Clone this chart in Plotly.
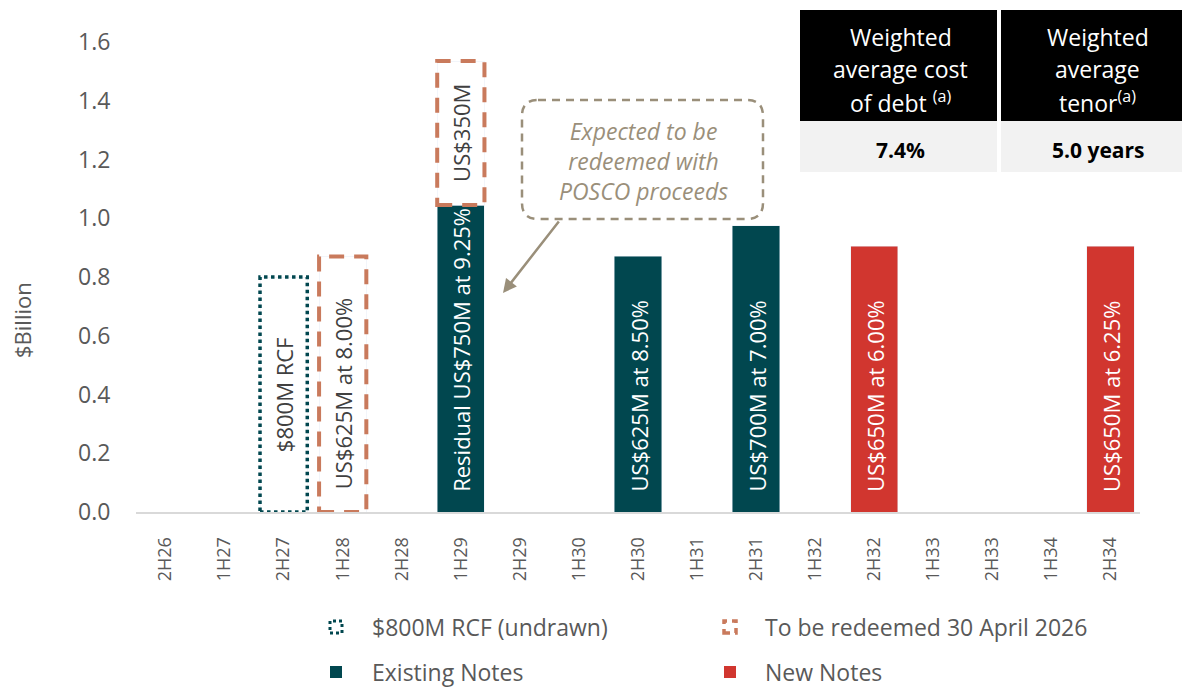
import plotly.graph_objects as go

# ---------------- data ----------------
categories = ['2H26', '1H27', '2H27', '1H28', '2H28', '1H29', '2H29', '1H30', '2H30',
              '1H31', '2H31', '1H32', '2H32', '1H33', '2H33', '1H34', '2H34']

existing_notes = [None, None, None, None, None, 1.045, None, None, 0.87,
                  None, 0.975, None, None, None, None, None, None]
new_notes = [None, None, None, None, None, None, None, None, None,
             None, None, None, 0.905, None, None, None, 0.905]
rcf_undrawn = [None, None, 0.80, None, None, None, None, None, None,
               None, None, None, None, None, None, None, None]
to_be_redeemed = [None, None, None, 0.87, None, 0.49, None, None, None,
                  None, None, None, None, None, None, None, None]

existing_labels = ['', '', '', '', '', 'Residual US$750M at 9.25%', '', '', 'US$625M at 8.50%',
                   '', 'US$700M at 7.00%', '', '', '', '', '', '']
new_labels = ['', '', '', '', '', '', '', '', '', '', '', '', 'US$650M at 6.00%',
              '', '', '', 'US$650M at 6.25%']
rcf_labels = ['', '', '$800M RCF', '', '', '', '', '', '', '', '', '', '', '', '', '', '']
redeemed_labels = ['', '', '', 'US$625M at 8.00%', '', 'US$350M', '', '', '', '', '', '',
                   '', '', '', '', '']

table_headers = [['Weighted', 'average cost', 'of debt <sup>(a)</sup>'],
                 ['Weighted', 'average', 'tenor<sup>(a)</sup>']]
table_values = ['7.4%', '5.0 years']

callout_lines = ['Expected to be', 'redeemed with', 'POSCO proceeds']

legend_names = ['$800M RCF (undrawn)', 'To be redeemed 30 April 2026', 'Existing Notes', 'New Notes']

# ---------------- styles ----------------
TEAL = '#01474F'
RED = '#D1362F'
ORANGE = '#C97A5C'
TAUPE = '#9A8F7A'
GREY = '#595959'
FONT = 'Open Sans, Lato, sans-serif'
BAR_W = 0.8

OFF = 8  # page body margin
W, H = 1190 - OFF, 688 - OFF
ML, MT = 136 - OFF, 42 - OFF
MR = W - (1140 - OFF)
MB = H - (512 - OFF)
PW, PH = W - ML - MR, H - MT - MB


def px(xpix):
    return (xpix - OFF - ML) / PW


def py(ypix):
    return (H - MB - (ypix - OFF)) / PH


fig = go.Figure()

fig.add_trace(go.Bar(x=categories, y=existing_notes, name=legend_names[2], marker_color=TEAL,
                     width=BAR_W, showlegend=False, hoverinfo='x+y'))
fig.add_trace(go.Bar(x=categories, y=new_notes, name=legend_names[3], marker_color=RED,
                     width=BAR_W, showlegend=False, hoverinfo='x+y'))
fig.add_trace(go.Bar(x=categories, y=rcf_undrawn, name=legend_names[0], marker_color='rgba(0,0,0,0)',
                     width=BAR_W, showlegend=False, hoverinfo='x+y'))
fig.add_trace(go.Bar(x=categories, y=to_be_redeemed, name=legend_names[1],
                     marker_color='rgba(0,0,0,0)', width=BAR_W, showlegend=False, hoverinfo='x+y'))

shapes = []
annotations = []

DOT = dict(color=TEAL, width=3.5, dash='dot')
DASH = dict(color=ORANGE, width=4, dash='15px,10px')

# outlines of the dotted / dashed bars
for i, v in enumerate(rcf_undrawn):
    if v:
        shapes.append(dict(type='rect', xref='x', yref='y', x0=i - BAR_W / 2, x1=i + BAR_W / 2,
                           y0=0, y1=v, line=DOT))
for i, v in enumerate(to_be_redeemed):
    if v:
        base = existing_notes[i] or 0
        shapes.append(dict(type='rect', xref='x', yref='y', x0=i - BAR_W / 2, x1=i + BAR_W / 2,
                           y0=base, y1=base + v, line=DASH))

# bar labels
LBL = 22
for labels in (existing_labels, new_labels):
    for i, t in enumerate(labels):
        if t:
            annotations.append(dict(x=categories[i], y=0, xref='x', yref='y', text=t, textangle=-90,
                                    yanchor='bottom', yshift=18, showarrow=False,
                                    font=dict(family=FONT, size=LBL, color='white')))
for i, t in enumerate(rcf_labels):
    if t:
        annotations.append(dict(x=categories[i], y=rcf_undrawn[i] / 2, xref='x', yref='y', text=t,
                                textangle=-90, yanchor='middle', showarrow=False,
                                font=dict(family=FONT, size=LBL, color='#404040')))
for i, t in enumerate(redeemed_labels):
    if t:
        base = existing_notes[i] or 0
        if base:
            annotations.append(dict(x=categories[i], y=base + to_be_redeemed[i] / 2, xref='x', yref='y',
                                    text=t, textangle=-90, yanchor='middle', showarrow=False,
                                    font=dict(family=FONT, size=LBL, color='#404040')))
        else:
            annotations.append(dict(x=categories[i], y=0, xref='x', yref='y', text=t, textangle=-90,
                                    yanchor='bottom', yshift=21, showarrow=False,
                                    font=dict(family=FONT, size=LBL, color='#404040')))

# y-axis title
annotations.append(dict(x=px(22), y=py(320), xref='paper', yref='paper', text='$Billion',
                        textangle=-90, showarrow=False, xanchor='center', yanchor='middle',
                        font=dict(family=FONT, size=22, color=GREY)))

# table (top-right)
cells = [(800, 997), (1001, 1190)]
for (x0, x1), header, val in zip(cells, table_headers, table_values):
    shapes.append(dict(type='rect', xref='paper', yref='paper', x0=px(x0), x1=px(x1),
                       y0=py(121), y1=py(10), fillcolor='black', line=dict(width=0), layer='above'))
    shapes.append(dict(type='rect', xref='paper', yref='paper', x0=px(x0), x1=px(x1),
                       y0=py(172), y1=py(121), fillcolor='#F2F2F2', line=dict(width=0), layer='above'))
    cx = (x0 + x1) / 2 + 2
    for k, line in enumerate(header):
        annotations.append(dict(x=px(cx), y=py(37 + 32.5 * k), xref='paper', yref='paper', text=line,
                                showarrow=False, xanchor='center', yanchor='middle',
                                font=dict(family=FONT, size=23, color='white')))
    annotations.append(dict(x=px(cx), y=py(150), xref='paper', yref='paper', text='<b>' + val + '</b>',
                            showarrow=False, xanchor='center', yanchor='middle',
                            font=dict(family=FONT, size=21, color='black')))

# callout box with rounded dashed border
L_, R_, T_, B_, r = 522, 763, 100, 219, 16


def P(a, b):
    return f'{px(a):.5f},{py(b):.5f}'


path = (f'M {P(L_ + r, T_)} L {P(R_ - r, T_)} Q {P(R_, T_)} {P(R_, T_ + r)} '
        f'L {P(R_, B_ - r)} Q {P(R_, B_)} {P(R_ - r, B_)} '
        f'L {P(L_ + r, B_)} Q {P(L_, B_)} {P(L_, B_ - r)} '
        f'L {P(L_, T_ + r)} Q {P(L_, T_)} {P(L_ + r, T_)} Z')
shapes.append(dict(type='path', xref='paper', yref='paper', path=path,
                   line=dict(color=TAUPE, width=2.5, dash='8px,6px')))
annotations.append(dict(x=px(643), y=py(161), xref='paper', yref='paper',
                        text='<i>' + '<br>'.join(callout_lines) + '</i>', showarrow=False,
                        xanchor='center', yanchor='middle', align='center',
                        font=dict(family=FONT, size=23, color=TAUPE)))
# arrow
annotations.append(dict(x=px(503), y=py(293), xref='paper', yref='paper', text='', showarrow=True,
                        ax=57, ay=-73, arrowhead=2, arrowsize=1.1, arrowwidth=2.5, arrowcolor=TAUPE))

# manual legend (2 x 2)
legend_items = [
    (legend_names[0], 336, 370, 627, dict(line=dict(color=TEAL, width=3, dash='dot'),
                                          fillcolor='rgba(0,0,0,0)')),
    (legend_names[1], 730, 763, 627, dict(line=dict(color=ORANGE, width=3.5, dash='6px,5px'),
                                          fillcolor='rgba(0,0,0,0)')),
    (legend_names[2], 336, 370, 672, dict(line=dict(width=0), fillcolor=TEAL)),
    (legend_names[3], 730, 763, 672, dict(line=dict(width=0), fillcolor=RED)),
]
for name, sx, tx, ty, style in legend_items:
    s = 6
    shapes.append(dict(type='rect', xref='paper', yref='paper', x0=px(sx - s), x1=px(sx + s),
                       y0=py(ty + s), y1=py(ty - s), **style))
    annotations.append(dict(x=px(tx), y=py(ty), xref='paper', yref='paper', text=name,
                            showarrow=False, xanchor='left', yanchor='middle',
                            font=dict(family=FONT, size=23, color=GREY)))

fig.update_layout(
    width=W, height=H,
    margin=dict(l=ML, r=MR, t=MT, b=MB, autoexpand=False),
    paper_bgcolor='white', plot_bgcolor='white',
    barmode='stack', bargap=0.2, showlegend=False,
    font=dict(family=FONT, color=GREY),
    shapes=shapes, annotations=annotations,
    xaxis=dict(type='category', range=[-0.5, 16.5], showline=True, linecolor='#D9D9D9', linewidth=2,
               tickangle=-90, ticks='outside', ticklen=16, tickcolor='rgba(0,0,0,0)',
               tickfont=dict(family=FONT, size=18, color=GREY), showgrid=False),
    yaxis=dict(range=[0, 1.6], dtick=0.2, tickformat='.1f', showgrid=False, zeroline=False,
               ticks='outside', ticklen=20, tickcolor='rgba(0,0,0,0)',
               tickfont=dict(family=FONT, size=23, color=GREY)),
)

fig.write_html('out.html')
